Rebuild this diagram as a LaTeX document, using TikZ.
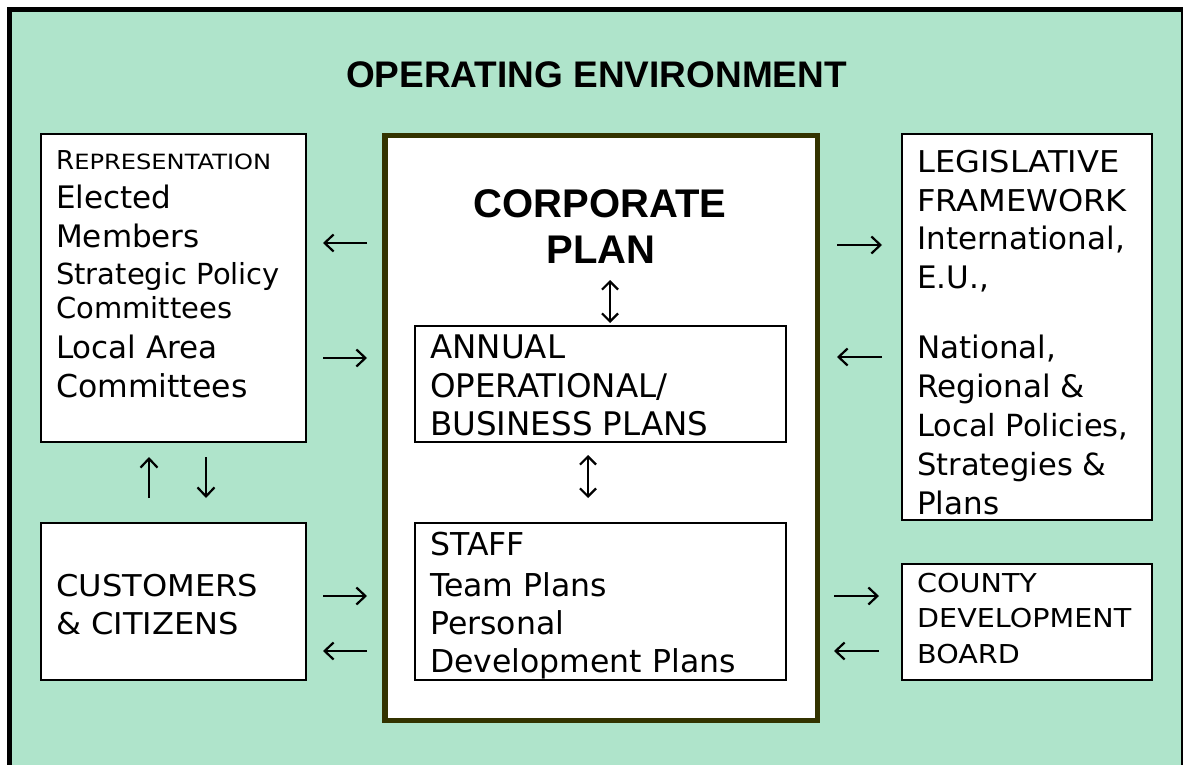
\documentclass[tikz,border=0pt]{standalone}
\usepackage{fontspec}
\setmainfont{DejaVu Sans}
\newfontfamily\arialf{Liberation Sans}
\newfontfamily\capsf[FakeStretch=1.07]{DejaVu Sans}
\newfontfamily\countyf[FakeStretch=1.1]{DejaVu Sans}
\newfontfamily\scf[FakeStretch=1.15]{DejaVu Sans}
\usetikzlibrary{arrows.meta}
\definecolor{envgreen}{RGB}{175,228,203}
\definecolor{olive}{RGB}{51,51,0}
\begin{document}
\begin{tikzpicture}[x=1pt,y=-1pt,
  box/.style={draw=black,fill=white,line width=1.9pt,inner sep=0pt},
  bigbox/.style={draw=olive,fill=white,line width=5.5pt,inner sep=0pt},
  txt/.style={anchor=base west,inner sep=0pt,font=\fontsize{31}{31}\selectfont},
  arr/.style={line width=2.2pt,-{Straight Barb[length=9pt,width=17pt]}},
  darr/.style={line width=2.2pt,{Straight Barb[length=8pt,width=16pt]}-{Straight Barb[length=8pt,width=16pt]}}]
\useasboundingbox (0,0) rectangle (1183,765);
% environment frame
\fill[envgreen] (9.5,9.5) rectangle (1183,765);
\draw[line width=5.5pt] (9.5,765) -- (9.5,9.5) -- (1183,9.5);
\draw[line width=1.5pt] (1182.2,9.5) -- (1182.2,765);
\node[anchor=base,inner sep=0pt,font=\arialf\bfseries\fontsize{37}{37}\selectfont] (title) at (596.5,88) {OPERATING ENVIRONMENT};

% boxes
\node[box,minimum width=265pt,minimum height=308pt] (rep) at (173.5,288) {};
\node[box,minimum width=265pt,minimum height=157pt] (cust) at (173.5,601.5) {};
\node[box,minimum width=250pt,minimum height=386pt] (leg) at (1027,327) {};
\node[box,minimum width=250pt,minimum height=116pt] (cdb) at (1027,622) {};
\node[bigbox,minimum width=432.5pt,minimum height=584.5pt] (core) at (601,428) {};
\node[box,minimum width=371pt,minimum height=116pt] (annual) at (600.5,384) {};
\node[box,minimum width=371pt,minimum height=157pt] (staff) at (600.5,601.5) {};

% representation text
\node[txt] (r1) at (56,169) {{\fontsize{26}{26}\selectfont R}{\scf\fontsize{21}{21}\selectfont EPRESENTATION}};
\node[txt] (r2) at (56,208) {Elected};
\node[txt] (r3) at (56,247) {Members};
\node[txt,font=\fontsize{29}{29}\selectfont] (r4) at (56,284) {Strategic Policy};
\node[txt,font=\fontsize{29}{29}\selectfont] (r5) at (56,318) {Committees};
\node[txt] (r6) at (56,358) {Local Area};
\node[txt,font=\fontsize{31.5}{31.5}\selectfont] (r7) at (56,397) {Committees};

% customers text
\node[txt,font=\capsf\fontsize{30}{30}\selectfont] (c1) at (56,596) {CUSTOMERS};
\node[txt,font=\capsf\fontsize{30}{30}\selectfont] (c2) at (56,634) {\& CITIZENS};

% corporate plan
\node[anchor=base,inner sep=0pt,font=\arialf\bfseries\fontsize{40}{40}\selectfont] (cp1) at (600,217) {CORPORATE};
\node[anchor=base,inner sep=0pt,font=\arialf\bfseries\fontsize{40}{40}\selectfont] (cp2) at (601,263) {PLAN};

% annual text
\node[txt,font=\fontsize{32.5}{32.5}\selectfont] (a1) at (430,358) {ANNUAL};
\node[txt,font=\fontsize{32.5}{32.5}\selectfont] (a2) at (430,397) {OPERATIONAL/};
\node[txt,font=\fontsize{32.5}{32.5}\selectfont] (a3) at (430,435) {BUSINESS PLANS};

% staff text
\node[txt,font=\fontsize{31.5}{31.5}\selectfont] (s1) at (430,555) {STAFF};
\node[txt,font=\fontsize{31.5}{31.5}\selectfont] (s2) at (430,596) {Team Plans};
\node[txt,font=\fontsize{31.5}{31.5}\selectfont] (s3) at (430,634) {Personal};
\node[txt,font=\fontsize{31.5}{31.5}\selectfont] (s4) at (430,672) {Development Plans};

% legislative text
\node[txt,font=\capsf\fontsize{30}{30}\selectfont] (l1) at (917,172) {LEGISLATIVE};
\node[txt,font=\capsf\fontsize{30}{30}\selectfont] (l2) at (917,211) {FRAMEWORK};
\node[txt] (l3) at (917,249) {International,};
\node[txt] (l4) at (917,288) {E.U.,};
\node[txt] (l5) at (917,358) {National,};
\node[txt] (l6) at (917,397) {Regional \&};
\node[txt,font=\fontsize{30.5}{30.5}\selectfont] (l7) at (917,436) {Local Policies,};
\node[txt,font=\fontsize{30.5}{30.5}\selectfont] (l8) at (917,475) {Strategies \&};
\node[txt] (l9) at (917,514) {Plans};

% county text
\node[txt,font=\countyf\fontsize{26}{26}\selectfont] (d1) at (917,592) {COUNTY};
\node[txt,font=\countyf\fontsize{26}{26}\selectfont] (d2) at (917,627) {DEVELOPMENT};
\node[txt,font=\countyf\fontsize{26}{26}\selectfont] (d3) at (917,663) {BOARD};

% arrows left
\draw[arr] (367,243) -- (323,243);
\draw[arr] (323,358) -- (367,358);
\draw[arr] (149,498) -- (149,457);
\draw[arr] (206,457) -- (206,498);
\draw[arr] (323,596) -- (367,596);
\draw[arr] (367,651) -- (323,651);
% arrows right
\draw[arr] (837,245) -- (882,245);
\draw[arr] (882,357) -- (837,357);
\draw[arr] (834,596) -- (879,596);
\draw[arr] (879,651) -- (834,651);
% vertical double arrows
\draw[darr] (610,280) -- (610,323);
\draw[darr] (588,455) -- (588,498);
\end{tikzpicture}
\end{document}
